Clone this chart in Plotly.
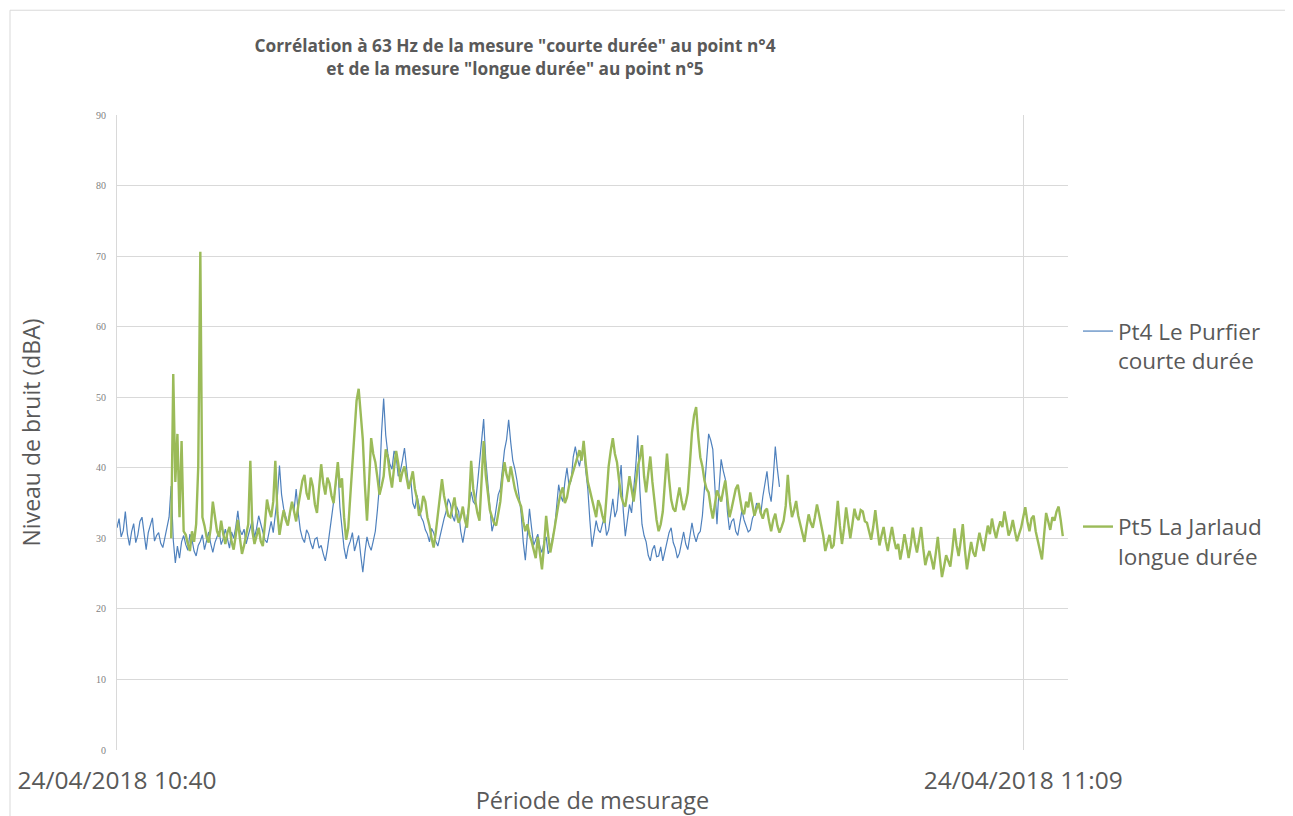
import pandas as pd
import plotly.graph_objects as go

# Niveaux relevés (dBA), un point toutes les 4 s
blue_start = "2018-04-24 10:40:00"
blue_values = [
    31.5, 32.8, 30.2, 31.1, 33.8, 30.6, 29.0, 30.9, 32.1, 29.4, 30.5, 32.4, 33.0, 30.2, 28.4, 30.8, 31.8, 32.9, 29.6, 30.4,
    30.8, 29.3, 28.7, 30.1, 31.2, 33.0, 37.4, 29.8, 26.5, 28.9, 27.2, 29.5, 30.4, 29.1, 28.3, 30.6, 29.8, 28.2, 27.5, 29.0,
    29.6, 30.5, 28.4, 29.7, 30.9, 29.2, 28.0, 29.4, 30.2, 31.0, 29.1, 30.0, 31.3, 29.8, 28.6, 30.9, 30.0, 31.6, 33.9, 31.2,
    30.5, 31.3, 29.2, 30.4, 31.6, 32.6, 30.1, 31.4, 33.2, 32.0, 31.0, 29.8, 29.4, 31.0, 32.4, 30.8, 33.9, 36.0, 40.3, 36.2,
    34.2, 33.0, 32.0, 33.5, 35.1, 34.0, 37.0, 33.6, 31.2, 30.0, 29.4, 31.2, 30.6, 29.3, 28.5, 29.9, 30.1, 28.6, 29.0, 27.8,
    26.8, 28.5, 30.5, 33.0, 35.2, 37.6, 40.2, 34.4, 31.0, 28.6, 27.1, 28.8, 29.6, 30.8, 28.2, 29.5, 30.4, 27.6, 25.2, 28.0,
    30.2, 29.0, 28.3, 29.6, 31.0, 34.0, 37.5, 45.0, 49.8, 44.6, 42.0, 40.5, 39.8, 42.4, 41.6, 38.8, 39.5, 41.0, 42.8, 40.0,
    37.2, 38.4, 35.0, 34.2, 36.1, 34.6, 33.0, 32.4, 31.2, 30.6, 29.5, 31.4, 30.8, 29.6, 28.9, 30.2, 31.6, 32.8, 33.8, 35.6,
    34.9, 33.2, 32.4, 34.5, 33.8, 31.0, 29.4, 31.2, 32.9, 34.8, 36.6, 35.2, 34.8, 37.6, 40.8, 44.0, 46.9, 41.2, 37.5, 33.8,
    31.0, 32.2, 34.6, 36.2, 37.0, 40.3, 42.5, 44.0, 46.8, 43.6, 41.0, 39.8, 38.2, 36.0, 33.5, 29.5, 26.9, 30.6, 34.2, 31.5,
    29.0, 29.8, 30.6, 28.8, 28.0, 29.5, 30.2, 27.8, 28.6, 30.0, 31.3, 34.4, 37.6, 36.0, 35.2, 38.0, 40.0, 37.4, 38.2, 41.5,
    43.0, 41.3, 40.2, 42.0, 42.8, 39.6, 37.0, 32.5, 28.8, 30.6, 32.5, 31.2, 30.8, 32.0, 33.0, 30.4, 31.2, 33.4, 35.6, 33.0,
    34.0, 37.5, 40.4, 34.0, 30.3, 32.6, 34.8, 33.6, 36.5, 40.2, 44.6, 36.8, 32.0, 30.4, 29.5, 27.6, 26.8, 28.4, 29.0, 27.4,
    27.5, 28.8, 26.8, 28.2, 29.6, 30.8, 31.5, 29.4, 28.6, 27.2, 27.9, 29.6, 30.9, 29.2, 28.4, 30.3, 32.2, 30.5, 29.5, 30.6,
    31.0, 33.2, 36.5, 41.0, 44.8, 43.9, 42.6, 36.5, 32.0, 37.0, 41.2, 39.6, 38.4, 33.8, 31.2, 32.4, 32.8, 31.0, 30.4, 32.2,
    34.0, 32.6, 31.8, 30.9, 31.2, 32.8, 33.5, 35.0, 34.6, 33.4, 35.9, 37.8, 39.5, 36.6, 35.2, 38.5, 43.0, 39.8, 37.3,
]

green_start = "2018-04-24 10:41:44"
green_values = [
    30.0, 53.3, 38.0, 44.8, 33.0, 43.8, 31.0, 30.5, 29.2, 28.2, 31.0, 29.5, 32.0, 40.2, 70.6, 33.0, 31.8,
    30.2, 29.4, 31.5, 35.2, 32.8, 31.0, 30.2, 32.5, 30.6, 29.2, 30.8, 31.6, 29.5, 28.4, 30.4, 32.6, 30.0,
    27.8, 29.0, 30.6, 32.0, 41.0, 31.0, 29.2, 30.4, 31.5, 29.6, 28.9, 32.0, 35.5, 34.0, 33.0, 35.2, 41.0, 33.6, 30.5, 32.4,
    34.0, 32.6, 31.8, 33.6, 35.2, 33.8, 32.4, 34.6, 36.8, 38.2, 39.0, 36.4, 35.5, 38.6, 37.4, 34.8, 33.6, 37.0, 40.5, 37.8,
    36.2, 38.6, 37.8, 36.0, 35.0, 38.0, 40.8, 37.2, 38.5, 33.0, 29.8, 31.5, 36.0, 42.0, 46.5, 49.5, 51.2, 48.0, 44.0, 37.5,
    32.5, 38.0, 44.2, 42.0, 40.8, 38.6, 36.2, 37.4, 38.8, 42.6, 41.5, 39.0, 37.2, 40.0, 42.4, 40.6, 38.0, 39.4, 40.2, 38.6,
    37.0, 38.2, 39.5, 37.0, 35.6, 33.2, 34.0, 36.0, 35.2, 33.0, 31.8, 30.0, 28.7, 30.8, 33.5, 36.4, 38.4, 36.0, 34.6, 33.2,
    33.0, 34.2, 35.8, 33.4, 32.2, 33.0, 34.5, 32.6, 31.5, 35.0, 41.0, 37.0, 35.0, 33.6, 32.5, 37.5, 43.8, 39.0, 36.0, 34.0,
    33.0, 32.2, 31.8, 33.4, 35.2, 38.5, 40.8, 39.0, 38.0, 40.2, 38.6, 37.0, 36.0, 35.2, 34.5, 32.4, 31.0, 32.0, 30.5, 29.6,
    28.5, 27.2, 30.2, 28.0, 25.6, 29.0, 33.2, 30.4, 28.0, 29.6, 31.5, 33.6, 35.0, 36.4, 37.2, 35.0, 35.8, 37.5, 38.5, 39.8,
    40.5, 41.6, 42.5, 41.0, 43.8, 40.6, 38.0, 36.8, 35.5, 34.2, 33.0, 35.4, 34.6, 33.2, 32.2, 36.0, 40.2, 42.4, 44.2, 42.0,
    40.8, 38.2, 36.0, 35.0, 34.5, 36.6, 38.8, 37.0, 35.2, 37.6, 40.2, 41.4, 43.2, 38.8, 36.5, 39.2, 41.6, 38.0, 35.0, 32.6,
    31.0, 32.0, 33.8, 37.5, 42.0, 38.4, 35.5, 34.2, 33.8, 35.6, 37.2, 35.4, 34.0, 35.0, 36.5, 40.6, 45.0, 47.4, 48.6, 44.5,
    41.5, 40.2, 38.2, 37.0, 36.5, 34.4, 32.8, 34.8, 36.8, 36.0, 35.2, 36.8, 38.2, 35.6, 33.0, 34.2, 35.8, 37.0, 37.6, 35.4,
    34.0, 33.4, 35.2, 34.4, 36.5, 34.8, 33.2, 34.2, 35.0, 33.6, 32.8, 33.9, 34.2, 32.4, 31.0, 32.6, 33.5, 31.8, 30.8, 31.6,
    32.5, 34.6, 39.0, 35.2, 33.0, 34.0, 35.3, 33.2, 31.8, 30.4, 29.5, 31.6, 33.4, 32.2, 31.5, 33.0, 34.8, 33.4, 32.0, 30.4,
    28.2, 29.4, 30.5, 28.6, 29.0, 32.0, 35.3, 31.8, 29.2, 31.4, 34.4, 32.2, 30.0, 32.0, 34.2, 33.0, 32.6, 34.0, 33.8, 32.4,
    32.2, 31.0, 29.8, 31.6, 34.0, 31.4, 29.0, 30.4, 31.6, 29.6, 28.2, 30.0, 31.6, 29.8, 28.5, 29.2, 27.0, 28.6, 30.6, 29.0,
    27.2, 29.0, 31.5, 29.4, 28.0, 29.8, 31.6, 28.6, 26.2, 27.4, 28.2, 27.0, 25.6, 27.8, 30.2, 27.2, 24.5, 26.0, 27.6, 26.8,
    26.0, 28.4, 31.4, 29.0, 27.5, 29.6, 32.0, 28.4, 25.6, 27.6, 29.5, 28.0, 27.4, 29.2, 30.8, 29.4, 28.2, 30.0, 31.8, 30.6,
    32.8, 31.2, 30.0, 31.4, 32.4, 31.6, 33.8, 32.2, 30.4, 31.2, 32.6, 31.0, 29.6, 30.6, 31.5, 33.0, 34.4, 32.4, 31.0, 32.8,
    33.2, 31.0, 29.5, 28.0, 27.0, 30.4, 33.6, 32.4, 31.2, 33.0, 32.5, 33.8, 34.5, 32.6, 30.3,
]

tick_vals = ["2018-04-24 10:40:00", "2018-04-24 11:09:00"]
tick_text = ["24/04/2018 10:40", "24/04/2018 11:09"]

blue_t = pd.date_range(blue_start, periods=len(blue_values), freq="4s")
green_t = pd.date_range(green_start, periods=len(green_values), freq="4s")

grey = "#595959"

fig = go.Figure()
fig.add_trace(go.Scatter(x=blue_t, y=blue_values, mode="lines",
                         name="Pt4 Le Purfier<br>courte durée", legendgroup="a",
                         line=dict(color="#4F81BD", width=1.2)))
fig.add_trace(go.Scatter(x=green_t, y=green_values, mode="lines",
                         name="Pt5 La Jarlaud<br>longue durée", legendgroup="b",
                         line=dict(color="#9BBB59", width=2.4)))

fig.update_layout(
    width=1285, height=808,
    margin=dict(l=109, r=225, t=107, b=66),
    paper_bgcolor="white", plot_bgcolor="white",
    font=dict(family="Open Sans", color=grey),
    title=dict(
        text='<b>Corrélation à 63 Hz de la mesure "courte durée" au point n°4<br>'
             'et de la mesure "longue durée" au point n°5</b>',
        x=0.3946, xanchor="center", y=0.945, yanchor="top",
        font=dict(size=17.3, color=grey, family="Open Sans")),
    legend=dict(x=1.0105, y=0.693, xanchor="left", yanchor="top",
                font=dict(size=22.5, color=grey), valign="top",
                tracegroupgap=134, traceorder="grouped",
                bgcolor="rgba(0,0,0,0)"),
    xaxis=dict(type="date",
               range=["2018-04-24 10:40:00", "2018-04-24 11:10:26"],
               tickvals=tick_vals, ticktext=tick_text,
               tickfont=dict(size=24.5, color=grey),
               ticks="", ticklabelstandoff=13,
               showgrid=True, gridcolor="#d9d9d9", gridwidth=1,
               showline=False, zeroline=False, automargin=False,
               title=dict(text="Période de mesurage", standoff=6,
                          font=dict(size=23.5, color=grey))),
    yaxis=dict(range=[0, 90], dtick=10, tick0=0,
               tickfont=dict(size=10, color="#7f7f7f", family="Liberation Serif"),
               ticks="", ticklabelstandoff=8,
               showgrid=True, gridcolor="#d9d9d9", gridwidth=1,
               showline=True, linecolor="#d9d9d9", linewidth=1,
               zeroline=False, automargin=False,
               title=dict(text="Niveau de bruit (dBA)", standoff=48,
                          font=dict(size=23, color=grey))),
)

# cadre du graphique
fig.add_shape(type="rect", xref="paper", yref="paper",
              x0=-0.1125, x1=1.236, y0=-0.12, y1=1.165,
              line=dict(color="#d9d9d9", width=1), layer="below")

fig.write_html("out.html")
